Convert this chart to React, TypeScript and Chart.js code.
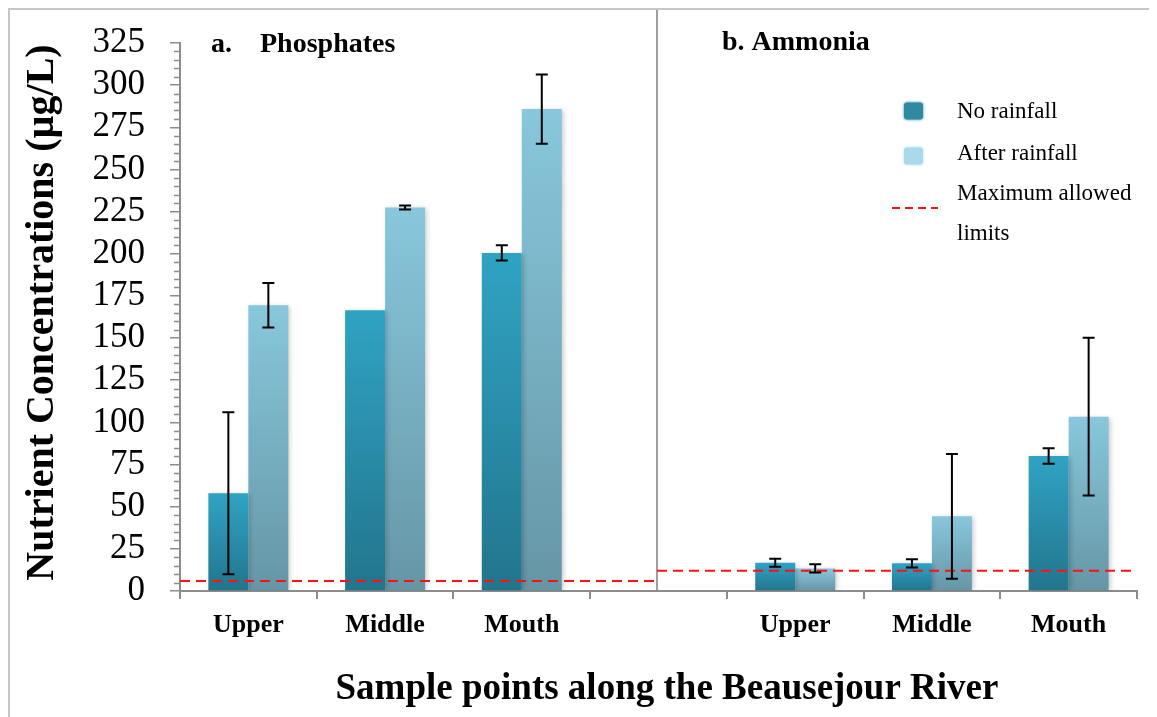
import React, { useEffect, useRef } from 'react';
import { Chart, registerables } from 'chart.js';

Chart.register(...registerables);

const categories = ['Upper', 'Middle', 'Mouth', '', 'Upper', 'Middle', 'Mouth'];
const noRainfall = [58, 166.5, 200.5, null, 16.8, 16.4, 80];
const noRainfallErr = [48, 0, 4.5, null, 2.4, 2.4, 4.6];
const afterRainfall = [169.5, 227.5, 285.8, null, 13.4, 44.3, 103.4];
const afterRainfallErr = [13.2, 1.2, 20.5, null, 2.5, 37, 46.8];
const limitValues = [6, 12]; // phosphates, ammonia
const panelTitles = ['a.', 'Phosphates', 'b. Ammonia'];
const legendLabels = ['No rainfall', 'After rainfall', 'Maximum allowed', 'limits'];
const yTitle = 'Nutrient Concentrations (µg/L)';
const xTitle = 'Sample points along the Beausejour River';

const FONT = '"Liberation Serif", "Times New Roman", Times, serif';
const AXIS = '#8c8c8c';

function gradient(top: string, bottom: string) {
  return (ctx: any) => {
    const chart = ctx.chart;
    const area = chart.chartArea;
    const y = chart.scales && chart.scales.y;
    if (!area || !y || ctx.raw == null || ctx.type !== 'data') return top;
    const y0 = y.getPixelForValue(ctx.raw);
    const y1 = y.getPixelForValue(0);
    if (!isFinite(y0) || !isFinite(y1) || Math.abs(y1 - y0) < 1) return top;
    const g = chart.ctx.createLinearGradient(0, y0, 0, y1);
    g.addColorStop(0, top);
    g.addColorStop(1, bottom);
    return g;
  };
}

const decorPlugin = {
  id: 'decor',
  beforeDraw(chart: any) {
    const c = chart.ctx;
    c.save();
    c.fillStyle = '#ffffff';
    c.fillRect(0, 0, chart.width, chart.height);
    c.strokeStyle = '#c6c6c6';
    c.lineWidth = 2;
    c.beginPath();
    c.moveTo(1, chart.height);
    c.lineTo(1, 1);
    c.lineTo(chart.width, 1);
    c.stroke();
    c.restore();
  },
  beforeDatasetsDraw(chart: any) {
    const c = chart.ctx;
    const xs = chart.scales.x;
    const area = chart.chartArea;
    const xd = xs.getPixelForValue(3) - 1.5;
    c.save();
    c.strokeStyle = '#7f7f7f';
    c.lineWidth = 1.5;
    c.beginPath();
    c.moveTo(xd, 2);
    c.lineTo(xd, area.bottom);
    c.stroke();
    c.restore();
    c.save();
    c.shadowColor = 'rgba(0,0,0,0.22)';
    c.shadowBlur = 5;
    c.shadowOffsetX = 2;
    c.shadowOffsetY = 1;
  },
  afterDatasetsDraw(chart: any) {
    const c = chart.ctx;
    c.restore();
    const xs = chart.scales.x;
    const ys = chart.scales.y;
    const area = chart.chartArea;
    const xd = xs.getPixelForValue(3) - 1.5;

    // limit lines
    c.save();
    c.strokeStyle = '#ff1010';
    c.lineWidth = 2;
    c.setLineDash([10, 6]);
    const yl0 = ys.getPixelForValue(limitValues[0]);
    c.beginPath();
    c.moveTo(area.left, yl0);
    c.lineTo(xd, yl0);
    c.stroke();
    const yl1 = ys.getPixelForValue(limitValues[1]);
    c.beginPath();
    c.moveTo(xd, yl1);
    c.lineTo(area.right - 2, yl1);
    c.stroke();
    c.restore();

    // error bars
    const series: [number, (number | null)[], (number | null)[]][] = [
      [0, noRainfall, noRainfallErr],
      [1, afterRainfall, afterRainfallErr],
    ];
    c.save();
    c.strokeStyle = '#000000';
    c.lineWidth = 2;
    series.forEach(([i, vals, errs]) => {
      const meta = chart.getDatasetMeta(i);
      meta.data.forEach((bar: any, j: number) => {
        const v = vals[j];
        const e = errs[j];
        if (v == null || !e) return;
        const x = bar.x;
        const yt = ys.getPixelForValue(v + e);
        const yb = ys.getPixelForValue(v - e);
        c.beginPath();
        c.moveTo(x, yt);
        c.lineTo(x, yb);
        c.moveTo(x - 6, yt);
        c.lineTo(x + 6, yt);
        c.moveTo(x - 6, yb);
        c.lineTo(x + 6, yb);
        c.stroke();
      });
    });
    c.restore();
  },
  afterDraw(chart: any) {
    const c = chart.ctx;
    const ys = chart.scales.y;
    const area = chart.chartArea;

    // minor ticks on y
    c.save();
    c.strokeStyle = AXIS;
    c.lineWidth = 1.5;
    for (let v = 5; v < 325; v += 5) {
      if (v % 25 === 0) continue;
      const y = Math.round(ys.getPixelForValue(v)) + 0.5;
      c.beginPath();
      c.moveTo(area.left - 6, y);
      c.lineTo(area.left, y);
      c.stroke();
    }
    c.restore();

    c.save();
    c.fillStyle = '#000';
    c.textBaseline = 'middle';
    c.textAlign = 'left';
    c.font = `bold 28px ${FONT}`;
    c.fillText(panelTitles[0], 203, 37);
    c.fillText(panelTitles[1], 252, 37);
    c.fillText(panelTitles[2], 714, 35);

    // x title
    c.textAlign = 'center';
    c.font = `bold 37px ${FONT}`;
    c.fillText(xTitle, 659, 681);

    // y title
    c.save();
    c.translate(35, 304.5);
    c.rotate(-Math.PI / 2);
    c.font = `bold 40px ${FONT}`;
    c.fillText(yTitle, 0, 0);
    c.restore();

    // legend
    const sq = (y: number, col: string) => {
      c.save();
      c.shadowColor = col;
      c.shadowBlur = 3;
      c.fillStyle = col;
      const x = 896, w = 19, h = 17, r = 3;
      c.beginPath();
      c.moveTo(x + r, y);
      c.lineTo(x + w - r, y);
      c.quadraticCurveTo(x + w, y, x + w, y + r);
      c.lineTo(x + w, y + h - r);
      c.quadraticCurveTo(x + w, y + h, x + w - r, y + h);
      c.lineTo(x + r, y + h);
      c.quadraticCurveTo(x, y + h, x, y + h - r);
      c.lineTo(x, y + r);
      c.quadraticCurveTo(x, y, x + r, y);
      c.fill();
      c.restore();
    };
    sq(94.5, '#2e89a1');
    sq(139.5, '#a9d9ea');
    c.save();
    c.strokeStyle = '#ff1010';
    c.lineWidth = 2;
    c.setLineDash([8, 5]);
    c.beginPath();
    c.moveTo(884, 200);
    c.lineTo(930, 200);
    c.stroke();
    c.restore();
    c.textAlign = 'left';
    c.font = `23px ${FONT}`;
    c.fillText(legendLabels[0], 949, 104);
    c.fillText(legendLabels[1], 949, 146);
    c.fillText(legendLabels[2], 949, 186);
    c.fillText(legendLabels[3], 949, 226);
    c.restore();
  },
};

export default function App() {
  const ref = useRef<HTMLCanvasElement>(null);
  useEffect(() => {
    document.documentElement.style.overflow = 'hidden';
    const canvas = ref.current;
    if (!canvas) return;
    const chart = new Chart(canvas, {
      type: 'bar',
      data: {
        labels: categories,
        datasets: [
          {
            label: 'No rainfall',
            data: noRainfall,
            backgroundColor: gradient('#30a3c3', '#22758d'),
            borderWidth: 0,
            categoryPercentage: 0.585,
            barPercentage: 1.0,
          },
          {
            label: 'After rainfall',
            data: afterRainfall,
            backgroundColor: gradient('#88c7dc', '#6596a6'),
            borderWidth: 0,
            categoryPercentage: 0.585,
            barPercentage: 1.0,
          },
        ],
      },
      options: {
        responsive: false,
        animation: false,
        events: [],
        layout: { padding: { top: 35, right: 20, left: 0, bottom: 0 } },
        plugins: {
          legend: { display: false },
          tooltip: { enabled: false },
          title: { display: false },
        },
        scales: {
          x: {
            type: 'category',
            offset: true,
            grid: {
              display: true,
              drawOnChartArea: false,
              offset: true,
              tickLength: 8,
              color: AXIS,
              lineWidth: 2,
            },
            border: { display: true, color: AXIS, width: 2 },
            ticks: {
              color: '#000',
              font: { family: FONT, size: 26, weight: 'bold' },
              padding: 11,
              autoSkip: false,
              maxRotation: 0,
            },
            afterFit: (s: any) => {
              s.height = 126;
              s.paddingLeft = 0;
              s.paddingRight = 0;
            },
          },
          y: {
            min: 0,
            max: 325,
            grid: {
              display: true,
              drawOnChartArea: false,
              tickLength: 10,
              color: AXIS,
              lineWidth: 1.5,
            },
            border: { display: true, color: AXIS, width: 2 },
            ticks: {
              stepSize: 25,
              autoSkip: false,
              color: '#000',
              font: { family: FONT, size: 35 },
              padding: 25,
            },
            afterFit: (s: any) => {
              s.width = 172;
              s.paddingTop = 0;
              s.paddingBottom = 0;
            },
          },
        },
      },
      plugins: [decorPlugin],
    } as any);
    return () => chart.destroy();
  }, []);
  return (
    <canvas ref={ref} width={1149} height={709} style={{ display: 'block', width: 1149, height: 709 }} />
  );
}
